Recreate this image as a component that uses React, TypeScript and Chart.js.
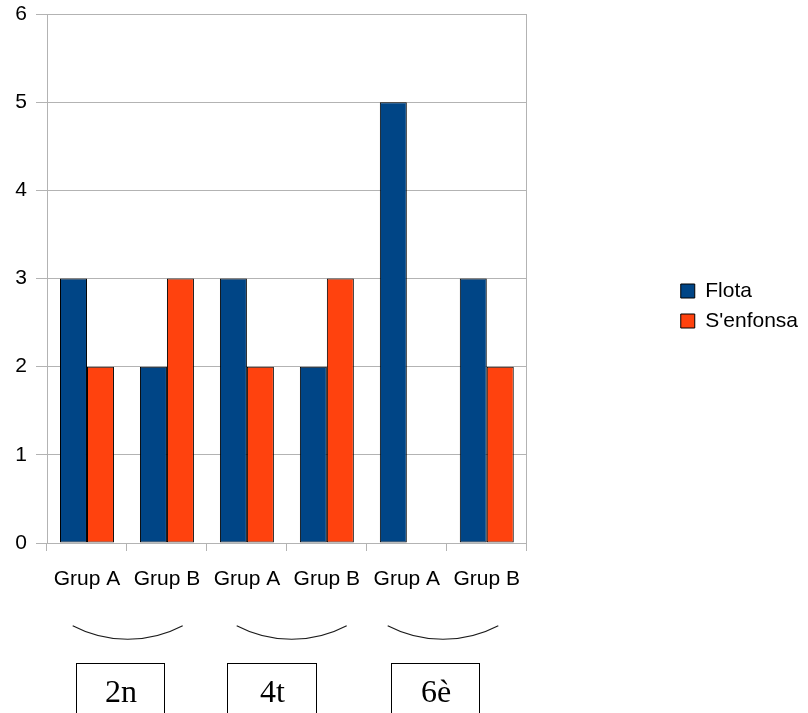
import React, { useEffect, useRef } from "react";
import { Chart, registerables } from "chart.js";

Chart.register(...registerables);

const categories = ["Grup A", "Grup B", "Grup A", "Grup B", "Grup A", "Grup B"];
const flota = [3, 2, 3, 2, 5, 3];
const senfonsa = [2, 3, 2, 3, 0, 2];
const seriesNames = ["Flota", "S'enfonsa"];
const seriesColors = ["#004586", "#ff420e"];
const yMin = 0;
const yMax = 6;
const yStep = 1;
const groupLabels = ["2n", "4t", "6è"];

// decoration geometry (braces and boxes under the axis)
const decoArcs = [
  { x1: 72.7, x2: 182.7 },
  { x1: 236.7, x2: 346.7 },
  { x1: 387.7, x2: 498.3 },
];
const decoBoxes = [
  { l: 76, r: 164 },
  { l: 227, r: 316 },
  { l: 391, r: 479 },
];

const SANS = '"Liberation Sans", Arial, sans-serif';
const SERIF = '"Liberation Serif", "Times New Roman", serif';

const decorPlugin = {
  id: "decor",
  afterDraw(chart: any) {
    const ctx = chart.ctx as CanvasRenderingContext2D;
    ctx.save();
    ctx.strokeStyle = "#1a1a1a";
    ctx.lineWidth = 1.1;
    const endY = 625.7;
    const bottomY = 639.3;
    decoArcs.forEach((a) => {
      const h = (a.x2 - a.x1) / 2;
      const s = bottomY - endY;
      const R = (h * h + s * s) / (2 * s);
      const cx = (a.x1 + a.x2) / 2;
      const cy = bottomY - R;
      const ang = Math.asin(h / R);
      ctx.beginPath();
      ctx.arc(cx, cy, R, Math.PI / 2 - ang, Math.PI / 2 + ang);
      ctx.stroke();
    });
    ctx.strokeStyle = "#000";
    ctx.lineWidth = 1;
    ctx.fillStyle = "#000";
    ctx.font = `32px ${SERIF}`;
    ctx.textAlign = "center";
    ctx.textBaseline = "alphabetic";
    decoBoxes.forEach((b, i) => {
      ctx.strokeRect(b.l + 0.5, 663.5, b.r - b.l, 80);
      ctx.fillText(groupLabels[i], (b.l + b.r) / 2 + 1, 702);
    });
    ctx.restore();
  },
};

export default function App() {
  const ref = useRef<HTMLCanvasElement>(null);

  useEffect(() => {
    const canvas = ref.current;
    if (!canvas) return;
    const font = { family: SANS, size: 21 };
    const chart = new Chart(canvas, {
      type: "bar",
      data: {
        labels: categories,
        datasets: [
          {
            label: seriesNames[0],
            data: flota,
            backgroundColor: seriesColors[0],
            borderColor: "#000",
            borderWidth: 1,
            borderSkipped: false,
            inflateAmount: 0,
            categoryPercentage: 0.675,
            barPercentage: 1,
          },
          {
            label: seriesNames[1],
            data: senfonsa,
            backgroundColor: seriesColors[1],
            borderColor: "#000",
            borderWidth: 1,
            borderSkipped: false,
            inflateAmount: 0,
            categoryPercentage: 0.675,
            barPercentage: 1,
          },
        ],
      },
      options: {
        responsive: false,
        animation: false,
        layout: { padding: { top: 14, bottom: 115, left: 0, right: 0 } },
        plugins: {
          legend: {
            position: "right",
            align: "center",
            maxWidth: 400,
            labels: {
              boxWidth: 14,
              boxHeight: 14,
              padding: 9,
              color: "#000",
              font,
            },
          },
          tooltip: { enabled: false },
        },
        scales: {
          x: {
            grid: {
              display: true,
              drawOnChartArea: false,
              drawTicks: true,
              tickLength: 8,
              color: "#b3b3b3",
              offset: true,
            },
            border: { display: true, color: "#b3b3b3" },
            ticks: {
              color: "#000",
              font,
              padding: 16,
              maxRotation: 0,
              autoSkip: false,
            },
            afterFit: (s: any) => {
              s.height = 55;
            },
          },
          y: {
            min: yMin,
            max: yMax,
            ticks: { stepSize: yStep, color: "#000", font, padding: 9 },
            grid: { color: "#b3b3b3", tickLength: 11 },
            border: { display: true, color: "#b3b3b3" },
            afterFit: (s: any) => {
              s.width = 47;
              s.paddingTop = 0;
              s.paddingBottom = 0;
            },
          },
          yRight: {
            type: "linear",
            position: "right",
            grid: { display: false },
            ticks: { display: false },
            border: { display: true, color: "#b3b3b3" },
            afterFit: (s: any) => {
              s.width = 145;
              s.paddingTop = 0;
              s.paddingBottom = 0;
            },
          },
        },
      } as any,
      plugins: [decorPlugin],
    });
    return () => chart.destroy();
  }, []);

  return (
    <canvas
      ref={ref}
      width={808}
      height={713}
      style={{ position: "absolute", left: 0, top: 0, display: "block" }}
    />
  );
}
